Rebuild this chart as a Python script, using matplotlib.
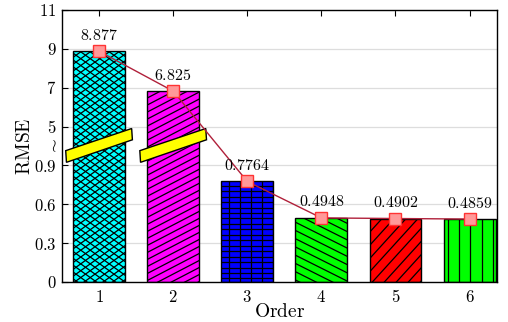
import numpy as np
import matplotlib
matplotlib.use("Agg")
import matplotlib.pyplot as plt
from matplotlib.collections import LineCollection
from matplotlib.patches import Polygon
from matplotlib.path import Path
from matplotlib.transforms import IdentityTransform, blended_transform_factory

plt.rcParams['mathtext.fontset'] = 'cm'
plt.rcParams['font.family'] = 'serif'
plt.rcParams['font.serif'] = ['DejaVu Serif']

# ---- data ----
orders = [1, 2, 3, 4, 5, 6]
rmse = [8.877, 6.825, 0.7764, 0.4948, 0.4902, 0.4859]
value_labels = ['8.877', '6.825', '0.7764', '0.4948', '0.4902', '0.4859']
bar_colors = ['#00ffff', '#ff00ff', '#0000ff', '#00ff00', '#ff0000', '#00ff00']
ytick_values = [0, 0.3, 0.6, 0.9, 5, 7, 9, 11]
ytick_labels = ['0', '0.3', '0.6', '0.9', '5', '7', '9', '11']
xtick_labels = ['1', '2', '3', '4', '5', '6']
broken_bars = [1, 2]

# hatch styles in pixel space: list of (kind, slope, spacing)
hatch_specs = [
    [('slope', 0.72, 9.5), ('slope', -0.72, 9.5)],
    [('slope', 0.52, 13.5)],
    [('v', None, 10.9), ('h', None, 5.45)],
    [('slope', -0.5, 16.5)],
    [('slope', 1.1, 12.0)],
    [('v', None, 11.2)],
]


# ---- broken y scale ----
def fwd(v):
    v = np.asarray(v, dtype=float)
    lo = v / 0.3
    mid = 10 / 3 + (v - 1.0) * (0.5 / 3 / 3.0)
    hi = 3.5 + (v - 4.0) / 2.0
    return np.where(v <= 1.0, lo, np.where(v <= 4.0, mid, hi))


def inv(u):
    u = np.asarray(u, dtype=float)
    lo = u * 0.3
    mid = 1.0 + (u - 10 / 3) / (0.5 / 3 / 3.0)
    hi = 4.0 + (u - 3.5) * 2.0
    return np.where(u <= 10 / 3, lo, np.where(u <= 3.5, mid, hi))


fig = plt.figure(figsize=(5.08, 3.22), dpi=100)
ax = fig.add_axes([62 / 508, 1 - 282 / 322, (497 - 62) / 508, (282 - 10) / 322])
ax.set_yscale('function', functions=(fwd, inv))
ax.set_ylim(0, 11)
ax.set_xlim(0.5, 6.37)

bars = ax.bar(orders, rmse, width=0.7, color=bar_colors, edgecolor='black',
              linewidth=1.0, zorder=2)

# custom hatching, clipped to each bar
for bar, specs in zip(bars, hatch_specs):
    x0, y0 = ax.transData.transform((bar.get_x(), 0))
    x1, y1 = ax.transData.transform((bar.get_x() + bar.get_width(), bar.get_height()))
    segs = []
    for kind, s, sp in specs:
        if kind == 'v':
            for x in np.arange(np.floor(x0 / sp) * sp, x1 + sp, sp):
                segs.append([(x, y0 - 5), (x, y1 + 5)])
        elif kind == 'h':
            for y in np.arange(np.floor(y0 / sp) * sp, y1 + sp, sp):
                segs.append([(x0 - 5, y), (x1 + 5, y)])
        else:
            step = sp * abs(s)
            bvals = [y0 - s * x0, y0 - s * x1, y1 - s * x0, y1 - s * x1]
            bmin, bmax = min(bvals) - step, max(bvals) + step
            for b in np.arange(np.floor(bmin / step) * step, bmax, step):
                segs.append([(x0 - 5, s * (x0 - 5) + b), (x1 + 5, s * (x1 + 5) + b)])
    lc = LineCollection(segs, colors='black', linewidths=0.9,
                        transform=IdentityTransform(), zorder=2.5)
    ax.add_collection(lc)
    clip = Path([(x0, y0), (x1, y0), (x1, y1), (x0, y1), (x0, y0)], closed=True)
    lc.set_clip_path(clip, IdentityTransform())

# break marks
btrans = blended_transform_factory(ax.transData, ax.transAxes)
for c in broken_bars:
    ym = 0.5
    pts = [(c - 0.44, ym - 0.42 / 7), (c - 0.45, ym - 0.12 / 7),
           (c + 0.44, ym + 0.45 / 7), (c + 0.45, ym + 0.16 / 7)]
    ax.add_patch(Polygon(pts, closed=True, facecolor='#ffff00', edgecolor='black',
                         linewidth=1.0, transform=btrans, zorder=3))

# line with markers
ax.plot(orders, rmse, color='#b0203a', linewidth=1.0, marker='s', markersize=8,
        markerfacecolor='#ff9999', markeredgecolor='#ff3333', markeredgewidth=1.0,
        zorder=4)

for x, v, lab in zip(orders, rmse, value_labels):
    ax.annotate('$' + lab + '$', (x, v), xytext=(0, 11.5), textcoords='offset points',
                ha='center', va='center', fontsize=11.5, zorder=5)

ax.set_yticks(ytick_values)
ax.set_yticklabels(['$' + t + '$' for t in ytick_labels])
ax.minorticks_off()
ax.set_xticks(orders)
ax.set_xticklabels(['$' + t + '$' for t in xtick_labels])
ax.tick_params(axis='both', direction='in', labelsize=12, length=4, width=0.8)
ax.tick_params(axis='x', top=True, pad=5)
ax.tick_params(axis='y', left=True, right=False, pad=4)
ax.grid(axis='y', color='#dddddd', linewidth=0.9, zorder=0)
ax.set_axisbelow(True)
for sp in ax.spines.values():
    sp.set_linewidth(1.0)

ax.text(-0.012, 0.5, r'$\wr$', transform=ax.transAxes, ha='right', va='center',
        fontsize=12)

ax.set_ylabel(r'$\mathrm{RMSE}$', fontsize=14, labelpad=0)
ax.set_xlabel(r'$\mathrm{Order}$', fontsize=14, labelpad=-2)

fig.savefig('out.png', dpi=100)
